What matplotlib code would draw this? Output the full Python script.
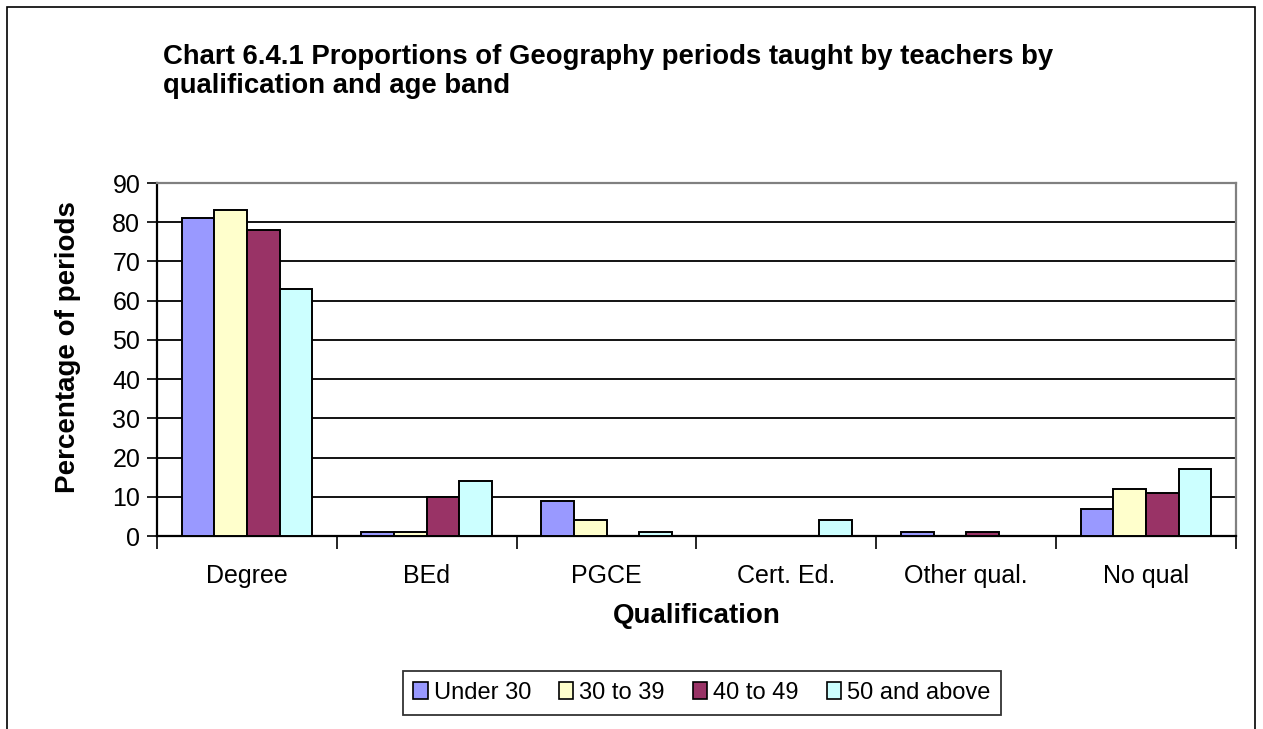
import numpy as np
import matplotlib.pyplot as plt
from matplotlib.patches import Rectangle

qualifications = ["Degree", "BEd", "PGCE", "Cert. Ed.", "Other qual.", "No qual"]
age_bands = ["Under 30", "30 to 39", "40 to 49", "50 and above"]
under_30 = [81, 1, 9, 0, 1, 7]
age_30_39 = [83, 1, 4, 0, 0, 12]
age_40_49 = [78, 10, 0, 0, 1, 11]
age_50_up = [63, 14, 1, 4, 0, 17]
colours = ["#9999FF", "#FFFFCC", "#993366", "#CCFFFF"]

plt.rcParams["font.family"] = ["Liberation Sans", "DejaVu Sans"]

W, H = 1263, 729
fig = plt.figure(figsize=(W / 100, H / 100), dpi=100)
fig.patch.set_facecolor("white")

# outer chart frame (bottom is cut off in the original)
fig.add_artist(Rectangle((7 / W, -0.05), 1248 / W, 1.05 - 7 / H,
                         transform=fig.transFigure, fill=False,
                         edgecolor="black", linewidth=1.2))

ax = fig.add_axes([157 / W, 1 - 536 / H, 1079 / W, 353 / H])

x = np.arange(len(qualifications))
width = 1 / 5.5
series = [under_30, age_30_39, age_40_49, age_50_up]
for i, (vals, label, col) in enumerate(zip(series, age_bands, colours)):
    ax.bar(x + (i - 1.5) * width, vals, width, color=col, edgecolor="black",
           linewidth=1.4, label=label, zorder=3)

ax.set_xlim(-0.5, len(qualifications) - 0.5)
ax.set_ylim(0, 90)
ax.set_yticks(range(0, 91, 10))
ax.yaxis.grid(True, color="black", linewidth=1.3, zorder=0)
ax.set_axisbelow(True)

ax.set_xticks(x)
ax.set_xticklabels(qualifications, fontsize=18)
ax.set_xticks(np.arange(-0.5, len(qualifications)), minor=True)
ax.tick_params(axis="x", which="major", length=0, pad=20)
ax.tick_params(axis="x", which="minor", length=9, width=1.2, direction="out")
ax.tick_params(axis="y", length=7, width=1.2, labelsize=18, pad=5)

for side in ["left", "bottom"]:
    ax.spines[side].set_linewidth(1.6)
for side in ["top", "right"]:
    ax.spines[side].set_color("#808080")
    ax.spines[side].set_linewidth(1.6)

ax.set_ylabel("Percentage of periods", fontsize=20, fontweight="bold",
              va="center", ha="center")
ax.yaxis.set_label_coords((68 - 157) / 1079, (536 - 347) / 353)
ax.set_xlabel("Qualification", fontsize=20, fontweight="bold", va="center")
ax.xaxis.set_label_coords(0.5, (536 - 616) / 353)

# title, two lines as in the original
fig.text(163 / W, 1 - 64 / H,
         "Chart 6.4.1 Proportions of Geography periods taught by teachers by",
         fontsize=19.8, fontweight="bold", va="baseline", ha="left")
fig.text(163 / W, 1 - 93 / H, "qualification and age band",
         fontsize=19.8, fontweight="bold", va="baseline", ha="left")

leg = fig.legend(loc="center", bbox_to_anchor=(702 / W, 1 - 693 / H), ncol=4,
                 fontsize=17, frameon=True, fancybox=False, edgecolor="black",
                 handlelength=0.6, handleheight=0.75, handletextpad=0.25,
                 columnspacing=1.2, borderpad=0.45, borderaxespad=0)
leg.get_frame().set_linewidth(1.3)
for h in leg.legend_handles:
    h.set_linewidth(1.2)

fig.savefig("out.png", dpi=100)
